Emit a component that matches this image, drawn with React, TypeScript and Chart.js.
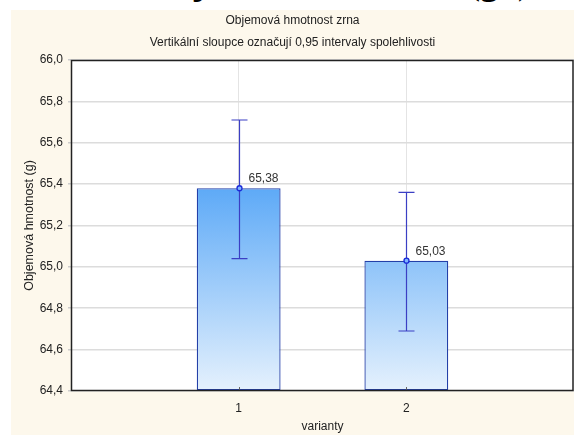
import React, { useEffect, useRef } from "react";
import { Chart, registerables } from "chart.js";

Chart.register(...registerables);

const categories = ["", "1", "2", ""];
const means = [65.38, 65.03];
const ciLow = [65.04, 64.69];
const ciHigh = [65.71, 65.36];
const valueLabels = ["65,38", "65,03"];
const titleLines = ["Objemová hmotnost zrna", "Vertikální sloupce označují 0,95 intervaly spolehlivosti"];
const yTitle = "Objemová hmotnost (g)";
const xTitle = "varianty";
const headingText = "Objemová hmotnost (g/l)";

const FONT = "'Liberation Sans', Arial, sans-serif";

const decor = {
  id: "decor",
  beforeDraw(chart: any) {
    const { ctx, chartArea: a } = chart;
    ctx.save();
    ctx.fillStyle = "#ffffff";
    ctx.fillRect(a.left, a.top, a.right - a.left, a.bottom - a.top);
    ctx.restore();
  },
  afterDatasetsDraw(chart: any) {
    const { ctx } = chart;
    const xs = chart.scales.x;
    const ys = chart.scales.y;
    ctx.save();
    for (let i = 0; i < means.length; i++) {
      const x = Math.round(xs.getPixelForValue(i + 1)) + 0.5;
      const yl = ys.getPixelForValue(ciLow[i]);
      const yh = ys.getPixelForValue(ciHigh[i]);
      const ym = ys.getPixelForValue(means[i]);
      ctx.strokeStyle = "#3b3fc4";
      ctx.lineWidth = 1.2;
      ctx.beginPath();
      ctx.moveTo(x, yl);
      ctx.lineTo(x, yh);
      ctx.moveTo(x - 8, yl);
      ctx.lineTo(x + 8, yl);
      ctx.moveTo(x - 8, yh);
      ctx.lineTo(x + 8, yh);
      ctx.stroke();
      ctx.beginPath();
      ctx.arc(x, ym, 2.5, 0, Math.PI * 2);
      ctx.fillStyle = "#7fb4ff";
      ctx.fill();
      ctx.strokeStyle = "#1a2ad8";
      ctx.lineWidth = 1.3;
      ctx.stroke();
      ctx.fillStyle = "#333333";
      ctx.font = `12px ${FONT}`;
      ctx.textAlign = "left";
      ctx.textBaseline = "alphabetic";
      ctx.fillText(valueLabels[i], x + 9, ym - 6);
      ctx.strokeStyle = "#666";
      ctx.lineWidth = 1;
      ctx.beginPath();
      ctx.moveTo(x, chart.chartArea.bottom - 4);
      ctx.lineTo(x, chart.chartArea.bottom);
      ctx.stroke();
    }
    ctx.restore();
  },
  afterDraw(chart: any) {
    const { ctx, chartArea: a, width } = chart;
    ctx.save();
    ctx.strokeStyle = "#222222";
    ctx.lineWidth = 1.5;
    ctx.strokeRect(a.left + 0.5, a.top + 0.5, a.right - a.left - 1.5, a.bottom - a.top - 1);
    ctx.fillStyle = "#222222";
    ctx.font = `12px ${FONT}`;
    ctx.textAlign = "center";
    ctx.textBaseline = "middle";
    ctx.fillText(titleLines[0], width / 2, 11);
    ctx.fillText(titleLines[1], width / 2, 33);
    ctx.fillText(xTitle, (a.left + a.right) / 2, 417);
    ctx.translate(19, (a.top + a.bottom) / 2);
    ctx.rotate(-Math.PI / 2);
    ctx.font = `12.5px ${FONT}`;
    ctx.fillText(yTitle, 0, 0);
    ctx.restore();
  },
};

export default function App() {
  const ref = useRef<HTMLCanvasElement>(null);
  useEffect(() => {
    const canvas = ref.current!;
    const barData = [null, ...means, null];
    const chart = new Chart(canvas, {
      type: "bar",
      data: {
        labels: categories,
        datasets: [
          {
            data: barData as any,
            base: 64.4,
            backgroundColor: (c: any) => {
              const a = c.chart.chartArea;
              if (!a) return "#8ec5f9";
              const g = c.chart.ctx.createLinearGradient(0, a.top, 0, a.bottom);
              g.addColorStop(0, "#1a80f4");
              g.addColorStop(0.39, "#5eaaf7");
              g.addColorStop(1, "#e5f1fd");
              return g;
            },
            borderColor: "#2440a8",
            borderWidth: 1.3,
            borderSkipped: false,
            barPercentage: 0.5,
            categoryPercentage: 1,
          } as any,
        ],
      },
      options: {
        animation: false,
        responsive: false,
        devicePixelRatio: 1,
        layout: { autoPadding: false, padding: { top: 50, right: 0, bottom: 0, left: 0 } },
        plugins: { legend: { display: false }, tooltip: { enabled: false }, title: { display: false } },
        scales: {
          x: {
            type: "category",
            offset: false,
            grid: { offset: false, color: "#e4e4e4", lineWidth: 1, drawTicks: false },
            border: { display: false },
            ticks: { color: "#222", font: { family: FONT, size: 12 }, padding: 10, maxRotation: 0, autoSkip: false },
            afterFit: (s: any) => {
              s.height = 44;
              s.paddingLeft = 0;
              s.paddingRight = 0;
            },
          },
          y: {
            min: 64.4,
            max: 66.0,
            grid: { color: "#dcdcdc", lineWidth: 1.5, tickLength: 3, tickColor: "#ccc" },
            border: { display: false },
            ticks: {
              stepSize: 0.2,
              color: "#222",
              font: { family: FONT, size: 12 },
              padding: 5,
              callback: (v: any) => Number(v).toFixed(1).replace(".", ","),
            },
            afterFit: (s: any) => {
              s.width = 60;
            },
          },
        },
      },
      plugins: [decor],
    });
    return () => chart.destroy();
  }, []);

  return (
    <div style={{ position: "fixed", left: 0, top: 0, width: 574, height: 435, background: "#ffffff", overflow: "hidden" }}>
      <div style={{ position: "absolute", left: 0, top: 0, width: 574, height: 10, overflow: "hidden" }}>
        <div
          style={{
            position: "absolute",
            left: 146,
            top: -36,
            whiteSpace: "nowrap",
            fontFamily: "'Liberation Serif', 'Times New Roman', serif",
            fontWeight: "bold",
            fontSize: 36,
            lineHeight: "36px",
            color: "#000",
          }}
        >
          {headingText}
        </div>
      </div>
      <div style={{ position: "absolute", left: 11, top: 10, width: 563, height: 425, background: "#fdf8ec" }}>
        <canvas ref={ref} width={563} height={425} style={{ display: "block", width: 563, height: 425 }} />
      </div>
    </div>
  );
}
